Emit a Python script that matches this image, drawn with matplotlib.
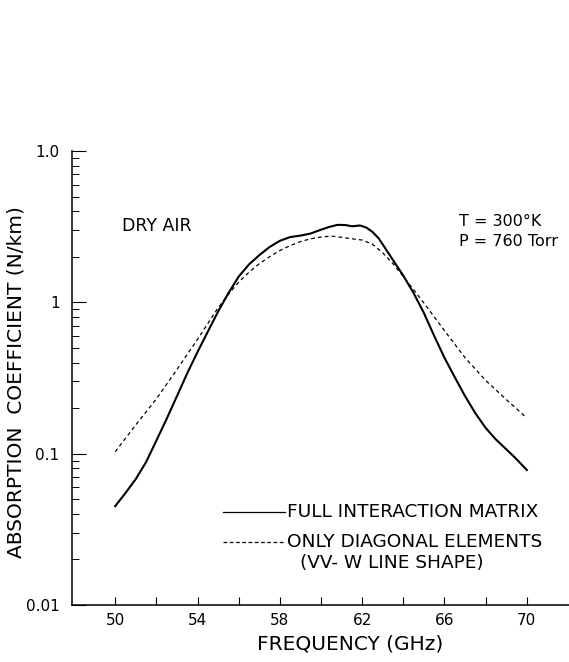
import matplotlib
matplotlib.use("Agg")
import matplotlib.pyplot as plt
from matplotlib.lines import Line2D
from matplotlib.ticker import FixedLocator, LogLocator, NullFormatter

# absorption of dry air around the 60 GHz oxygen band
freq_full = [50, 50.5, 51, 51.5, 52, 52.5, 53, 53.5, 54, 54.5, 55, 55.5, 56,
             56.5, 57, 57.5, 58, 58.5, 59, 59.5, 60, 60.4, 60.8, 61.2, 61.5,
             61.9, 62.2, 62.5, 62.8, 63.1, 63.5, 64, 64.5, 65, 65.5, 66, 66.5,
             67, 67.5, 68, 68.5, 69, 69.5, 70]
alpha_full = [0.045, 0.055, 0.068, 0.088, 0.122, 0.17, 0.24, 0.34, 0.47,
              0.64, 0.87, 1.15, 1.48, 1.78, 2.05, 2.32, 2.55, 2.7, 2.76,
              2.85, 3.02, 3.15, 3.25, 3.24, 3.18, 3.22, 3.12, 2.92, 2.65,
              2.3, 1.9, 1.5, 1.15, 0.85, 0.6, 0.43, 0.32, 0.24, 0.185, 0.148,
              0.124, 0.107, 0.092, 0.078]

freq_diag = [50, 51, 52, 53, 54, 55, 55.5, 56, 56.5, 57, 57.5, 58, 58.5, 59,
             59.5, 60, 60.5, 61, 61.5, 62, 62.5, 63, 63.5, 64, 65, 66, 67, 68,
             69, 70]
alpha_diag = [0.103, 0.155, 0.23, 0.36, 0.57, 0.92, 1.13, 1.36, 1.58, 1.8,
              2.0, 2.2, 2.37, 2.52, 2.63, 2.7, 2.74, 2.69, 2.63, 2.58, 2.42,
              2.12, 1.8, 1.48, 0.99, 0.65, 0.43, 0.305, 0.228, 0.172]

x_ticks = [50, 52, 54, 56, 58, 60, 62, 64, 66, 68, 70]
x_ticklabels = ["50", "", "54", "", "58", "", "62", "", "66", "", "70"]
y_ticks = [0.01, 0.1, 1, 10]
y_ticklabels = ["0.01", "0.1", "1", "1.0"]

plt.rcParams['font.family'] = ['DejaVu Sans']

W, H = 569, 662
fig = plt.figure(figsize=(W / 100, H / 100), dpi=100)


def px(x, y):
    # pixel position -> figure fraction
    return x / W, 1 - y / H


ax = fig.add_axes([72 / W, 1 - 605 / H, 1 - 72 / W, (605 - 151) / H])

ax.plot(freq_full, alpha_full, color='black', lw=1.5, solid_joinstyle='round')
ax.plot(freq_diag, alpha_diag, color='black', lw=0.9, linestyle=(0, (3, 2.5)))

ax.set_yscale('log')
ax.set_xlim(47.9, 72.05)
ax.set_ylim(0.01, 10)

ax.spines['top'].set_visible(False)
ax.spines['right'].set_visible(False)
for s in ax.spines.values():
    s.set_linewidth(1.1)

ax.xaxis.set_major_locator(FixedLocator(x_ticks))
ax.set_xticklabels(x_ticklabels)
ax.yaxis.set_major_locator(FixedLocator(y_ticks))
ax.set_yticklabels(y_ticklabels)
ax.yaxis.set_minor_locator(LogLocator(base=10, subs=range(2, 10)))
ax.yaxis.set_minor_formatter(NullFormatter())

ax.tick_params(axis='x', direction='in', length=6, width=0.8, pad=6,
               labelsize=11)
ax.tick_params(axis='y', which='major', direction='in', length=10,
               width=0.8, pad=9, labelsize=11)
ax.tick_params(axis='y', which='minor', direction='in', length=5, width=0.7)

ax.set_ylabel("ABSORPTION  COEFFICIENT (N/km)", fontsize=14.5)
ax.yaxis.set_label_coords(-(72 - 26) / (W - 72), 0.49)
ax.set_xlabel("FREQUENCY (GHz)", fontsize=14.5)
ax.xaxis.set_label_coords((350 - 72) / (W - 72), -0.065)

# annotations
fig.text(*px(122, 226), "DRY AIR", fontsize=12.5, va='center')
fig.text(*px(459, 222), "T = 300\u00b0K", fontsize=11.5, va='center')
fig.text(*px(459, 242), "P = 760 Torr", fontsize=11.5, va='center')

# key
x0, _ = px(223, 0)
x1, _ = px(285, 0)
_, y_a = px(0, 512)
_, y_b = px(0, 542)
fig.add_artist(Line2D([x0, x1], [y_a, y_a], color='black', lw=0.9,
                      transform=fig.transFigure))
fig.add_artist(Line2D([x0, x1], [y_b, y_b], color='black', lw=0.9,
                      linestyle=(0, (3, 2)), transform=fig.transFigure))
fig.text(*px(287, 512), "FULL INTERACTION MATRIX", fontsize=13.3, va='center')
fig.text(*px(287, 542), "ONLY DIAGONAL ELEMENTS", fontsize=13.3, va='center')
fig.text(*px(300, 563), "(VV- W LINE SHAPE)", fontsize=13.3, va='center')

fig.savefig("out.png", dpi=100)
